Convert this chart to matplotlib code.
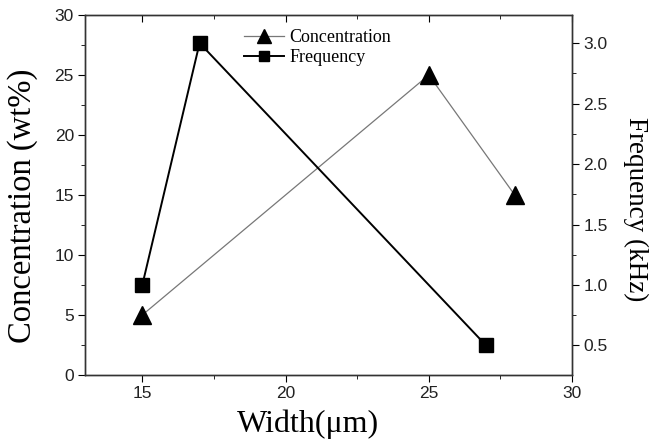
import numpy as np
import matplotlib.pyplot as plt
from matplotlib.ticker import MultipleLocator

plt.rcParams['font.family'] = ['Liberation Sans', 'DejaVu Sans']

# data
conc_width = [15, 25, 28]
concentration = [5, 25, 15]          # wt%
freq_width = [15, 17, 27]
frequency = [1.0, 3.0, 0.5]          # kHz

fig = plt.figure(figsize=(6.51, 4.41), dpi=100)
ax = fig.add_axes([0.1306, 0.1497, 0.7481, 0.8163])
ax2 = ax.twinx()

serif = ['Liberation Serif', 'DejaVu Serif']

l1, = ax.plot(conc_width, concentration, color='#777777', lw=0.9,
              marker='^', ms=13, mfc='black', mec='black', label='Concentration')
l2, = ax2.plot(freq_width, frequency, color='black', lw=1.4,
               marker='s', ms=9.5, mfc='black', mec='black', label='Frequency')

ax.set_xlim(13, 30)
ax.set_ylim(0, 30)
ax2.set_ylim(0.256, 3.232)

ax.xaxis.set_major_locator(MultipleLocator(5))
ax.xaxis.set_minor_locator(MultipleLocator(2.5))
ax.yaxis.set_major_locator(MultipleLocator(5))
ax.yaxis.set_minor_locator(MultipleLocator(2.5))
ax2.yaxis.set_major_locator(MultipleLocator(0.5))
ax2.yaxis.set_minor_locator(MultipleLocator(0.25))

ax.tick_params(axis='x', which='both', direction='out', top=True)
ax.tick_params(axis='x', which='major', length=5)
ax.tick_params(axis='x', which='minor', length=3)
for a in (ax, ax2):
    a.tick_params(axis='y', which='major', direction='out', length=5)
    a.tick_params(axis='y', which='minor', direction='out', length=3)
    a.tick_params(which='major', labelsize=12.5, labelcolor='#222222', pad=3)

# top ticks point inward
for t in ax.xaxis.get_major_ticks() + ax.xaxis.get_minor_ticks():
    t.tick2line.set_marker(3)

ax.set_xlabel('Width(μm)', family=serif, size=23, labelpad=0)
ax.xaxis.set_label_coords(0.458, -0.095)
ax.set_ylabel('Concentration (wt%)', family=serif, size=23.5)
ax.yaxis.set_label_coords(-0.097, 0.469)
ax2.set_ylabel('Frequency (kHz)', family=serif, size=19.5, rotation=270, va='center')
ax2.yaxis.set_label_coords(1.13, 0.461)

for a in (ax, ax2):
    for s in a.spines.values():
        s.set_linewidth(1.0)
        s.set_color('#333333')

leg = ax.legend(handles=[l1, l2], loc='upper left', bbox_to_anchor=(0.305, 0.99),
                frameon=False, prop={'family': serif, 'size': 13},
                handlelength=2.2, handletextpad=0.28, labelspacing=0.17,
                markerscale=0.75, borderaxespad=0.2)

fig.savefig('out.png', dpi=100)
